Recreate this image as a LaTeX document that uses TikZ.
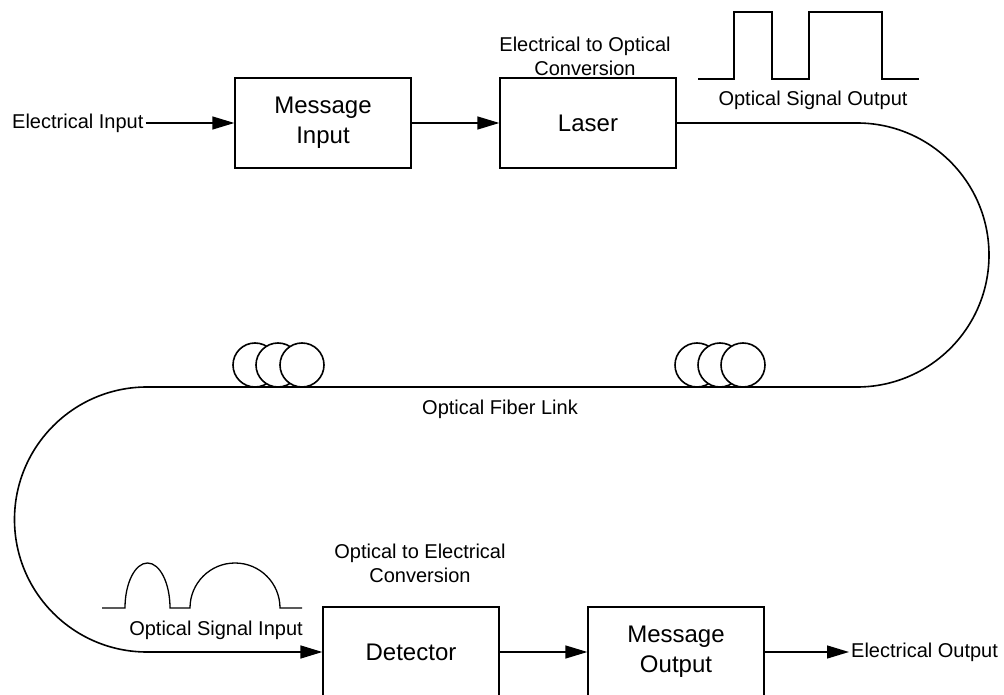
\documentclass[tikz,border=0pt]{standalone}
\usepackage{fontspec}
\setmainfont{Liberation Sans}
\usetikzlibrary{arrows.meta}
\begin{document}
\begin{tikzpicture}[x=1pt,y=1pt,
  block/.style={draw, line width=1.3pt, minimum width=176pt, minimum height=90pt,
    inner sep=0pt, align=center, font=\fontsize{24}{30}\selectfont},
  lbl/.style={inner sep=2pt, align=center, font=\fontsize{20}{24}\selectfont},
  sig/.style={line width=1.3pt, -{Triangle[length=22pt,width=13pt]}},
  fiber/.style={line width=1.6pt},
  wave/.style={line width=1.3pt},
  coil/.style={line width=1.6pt, fill=white}]
\useasboundingbox (0,0) rectangle (1004,694);

% transmitter chain
\node[block] (msgin) at (323,571) {Message\\Input};
\node[block] (laser) at (588,571) {Laser};
\node[lbl, anchor=west] (ein) at (10,571) {Electrical Input};
\node[lbl] (eoconv) at (585,638) {Electrical to Optical\\Conversion};
\draw[sig] (ein.east) -- (msgin.west);
\draw[sig] (msgin.east) -- (laser.west);

% square pulses leaving the laser
\draw[wave] (698,615) -- (734,615) -- (734,682) -- (772,682) -- (772,615)
  -- (809,615) -- (809,682) -- (882,682) -- (882,615) -- (919,615);
\node[lbl] (osout) at (813,594) {Optical Signal Output};

% receiver chain
\node[block] (det) at (411,42) {Detector};
\node[block] (msgout) at (676,42) {Message\\Output};
\node[lbl, anchor=west] (eout) at (849,42) {Electrical Output};
\node[lbl] (oeconv) at (420,131) {Optical to Electrical\\Conversion};
\draw[sig] (det.east) -- (msgout.west);
\draw[sig] (msgout.east) -- (eout.west);

% fiber link
\coordinate (r1) at (857,571);
\coordinate (l1) at (147,307);
\draw[fiber] (laser.east) -- (r1)
  arc[start angle=90, end angle=-90, radius=132] -- (l1)
  arc[start angle=90, end angle=270, radius=132.5];
\draw[sig, line width=1.6pt] (147,42) -- (det.west);
\node[lbl] (link) at (500,285) {Optical Fiber Link};

% fiber coils
\foreach \cx in {255,278,302,697,720,743}
  \draw[coil] (\cx,329) circle[radius=22];

% dispersed pulses arriving at the detector
\draw[wave] (102,86) -- (125,86)
  arc[start angle=180, end angle=0, x radius=22.5, y radius=45] -- (190,86)
  arc[start angle=180, end angle=0, x radius=45, y radius=45] -- (302,86);
\node[lbl] (osin) at (216,64) {Optical Signal Input};
\end{tikzpicture}
\end{document}
